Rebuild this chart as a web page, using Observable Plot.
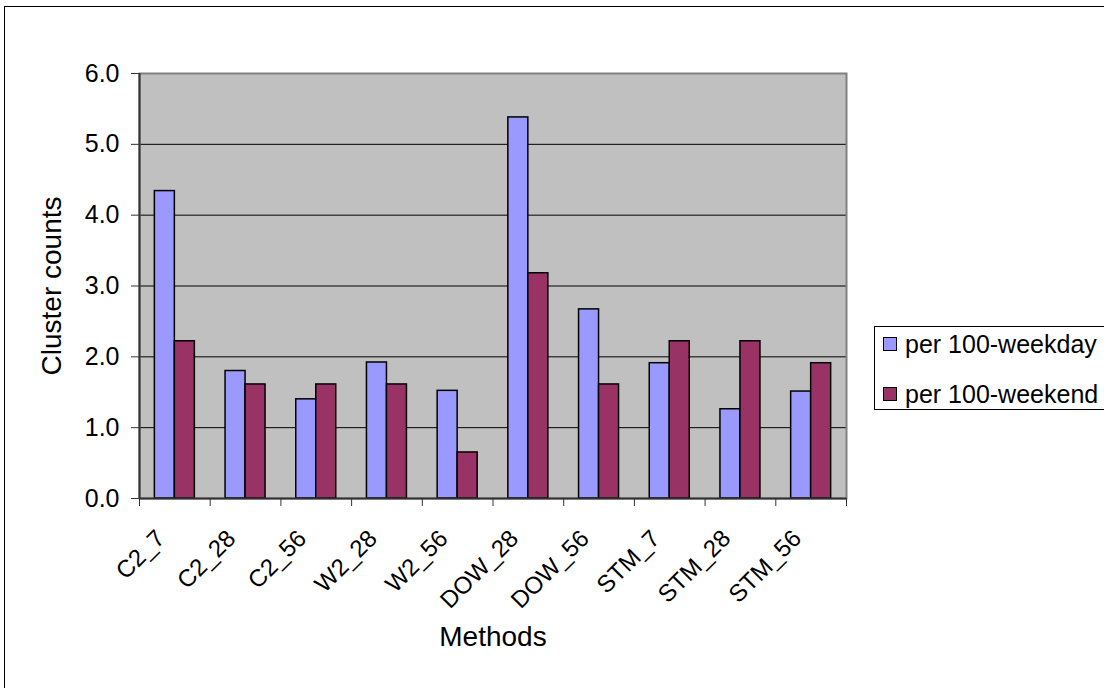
<!DOCTYPE html>
<html>
<head>
<meta charset="utf-8">
<script src="https://cdn.jsdelivr.net/npm/d3@7"></script>
<script src="https://cdn.jsdelivr.net/npm/@observablehq/plot@0.6"></script>
<style>
  html, body { margin: 0; padding: 0; background: #fff; overflow: hidden; }
  #chart { position: relative; width: 1104px; height: 688px; font-family: "Liberation Sans", Arial, sans-serif; color: #000; }
  #border { position: absolute; left: 4px; top: 6px; width: 1200px; height: 800px; border: 1.5px solid #000; box-sizing: border-box; }
  #plot { position: absolute; left: 0; top: 0; }
  #legend { position: absolute; left: 874px; top: 326px; width: 300px; height: 84px; border: 1.5px solid #000; box-sizing: border-box; background: #fff; }
  .item { position: absolute; left: 8px; height: 26px; display: flex; align-items: center; font-size: 25px; white-space: nowrap; }
  .swatch { width: 12px; height: 12px; border: 1.5px solid #000; margin-right: 8px; }
</style>
</head>
<body>
<div id="chart">
  <div id="border"></div>
  <div id="plot"></div>
  <div id="legend"></div>
</div>
<script>
// Cluster counts per 100 days, by detection method
const methods = ["C2_7", "C2_28", "C2_56", "W2_28", "W2_56", "DOW_28", "DOW_56", "STM_7", "STM_28", "STM_56"];
const weekday = [4.34, 1.80, 1.40, 1.92, 1.52, 5.38, 2.67, 1.91, 1.26, 1.51];
const weekend = [2.22, 1.61, 1.61, 1.61, 0.65, 3.18, 1.61, 2.22, 2.22, 1.91];
const seriesNames = ["per 100-weekday", "per 100-weekend"];
const seriesColors = ["#9999FF", "#993366"];
const yTicks = [0, 1, 2, 3, 4, 5, 6];

const rows = methods.flatMap((m, i) => [
  {method: m, series: seriesNames[0], value: weekday[i]},
  {method: m, series: seriesNames[1], value: weekend[i]}
]);

// layout
const W = 1104, H = 688;
const mL = 139, mR = 258, mT = 73, mB = 190;
const bw = (W - mL - mR) / methods.length;   // category band width
const barW = 20;                               // width of one bar
const gap = (bw - 2 * barW) / 2;               // space on each side of a pair

const font = '"Liberation Sans", Arial, sans-serif';

const chart = Plot.plot({
  width: W,
  height: H,
  marginLeft: mL,
  marginRight: mR,
  marginTop: mT,
  marginBottom: mB,
  style: {fontFamily: font, fontSize: "25px", color: "#000", background: "transparent", overflow: "visible"},
  x: {domain: methods, padding: 0, round: false, axis: null},
  y: {domain: [0, 6], axis: null},
  color: {domain: seriesNames, range: seriesColors},
  marks: [
    Plot.frame({fill: "#C0C0C0"}),
    Plot.gridY(yTicks, {stroke: "#000", strokeOpacity: 1, strokeWidth: 1}),
    Plot.frame({stroke: "#808080", strokeWidth: 2}),
    Plot.barY(rows.filter(d => d.series === seriesNames[0]), {
      x: "method", y: "value", fill: "series", stroke: "#000", strokeWidth: 1.5,
      insetLeft: gap, insetRight: gap + barW
    }),
    Plot.barY(rows.filter(d => d.series === seriesNames[1]), {
      x: "method", y: "value", fill: "series", stroke: "#000", strokeWidth: 1.5,
      insetLeft: gap + barW, insetRight: gap
    }),
    // axis lines
    Plot.ruleY([0], {stroke: "#333", strokeWidth: 2}),
    Plot.ruleX([methods[0]], {dx: -bw / 2, stroke: "#333", strokeWidth: 2}),
    // category boundary ticks
    Plot.axisX({tickSize: 8, dx: -bw / 2, tickFormat: () => "", label: null, stroke: "#333"}),
    Plot.axisX([methods[methods.length - 1]], {tickSize: 8, dx: bw / 2, tickFormat: () => "", label: null, stroke: "#333"}),
    // category labels
    Plot.axisX({tickSize: 0, tickRotate: -45, tickPadding: 36, dx: -14, fontSize: 24, label: null}),
    Plot.axisY({ticks: yTicks, tickFormat: d3.format(".1f"), tickSize: 8, tickPadding: 12, fontSize: 25, label: null, stroke: "#333"}),
    // axis titles
    Plot.text(["Cluster counts"], {text: d => d, frameAnchor: "left", textAnchor: "middle", rotate: -90, dx: -87, fontSize: 28}),
    Plot.text(["Methods"], {text: d => d, frameAnchor: "bottom", dy: 147, fontSize: 28})
  ]
});
document.getElementById("plot").appendChild(chart);

// legend
const legend = document.getElementById("legend");
seriesNames.forEach((name, i) => {
  const item = document.createElement("div");
  item.className = "item";
  item.style.top = (i === 0 ? 4 : 54) + "px";
  const sw = document.createElement("span");
  sw.className = "swatch";
  sw.style.background = seriesColors[i];
  item.appendChild(sw);
  item.appendChild(document.createTextNode(name));
  legend.appendChild(item);
});
</script>
</body>
</html>
